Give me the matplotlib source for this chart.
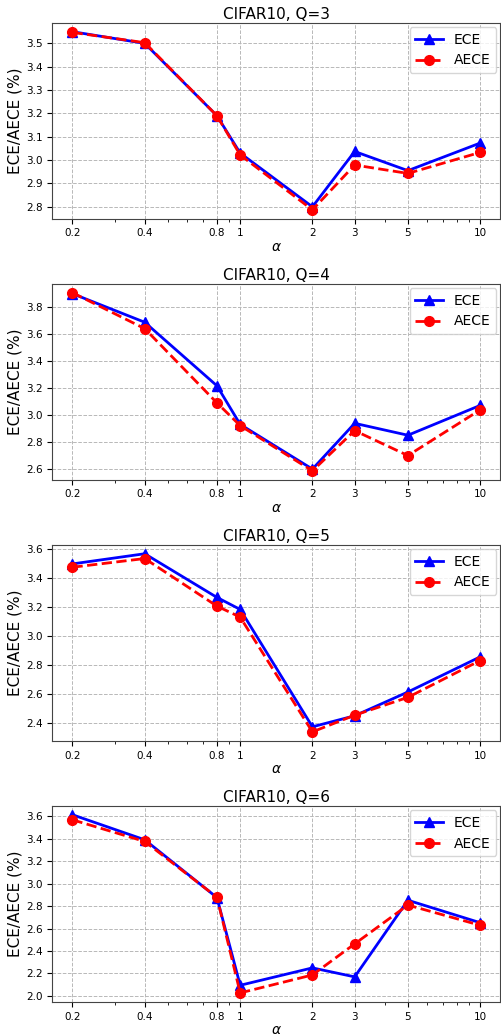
import numpy as np
import matplotlib
matplotlib.use('Agg')
import matplotlib.pyplot as plt
from matplotlib.ticker import NullFormatter

### data

alphas = [0.2, 0.4, 0.8, 1, 2, 3, 5, 10]
alpha_labels = ['0.2', '0.4', '0.8', '1', '2', '3', '5', '10']
q_values = [3, 4, 5, 6]

ece_q3 = [3.550, 3.500, 3.190, 3.030, 2.800, 3.037, 2.955, 3.073]
aece_q3 = [3.547, 3.503, 3.190, 3.022, 2.787, 2.979, 2.943, 3.033]

ece_q4 = [3.895, 3.684, 3.215, 2.930, 2.600, 2.938, 2.850, 3.070]
aece_q4 = [3.902, 3.637, 3.089, 2.921, 2.587, 2.884, 2.700, 3.037]

ece_q5 = [3.498, 3.568, 3.267, 3.184, 2.375, 2.451, 2.615, 2.857]
aece_q5 = [3.475, 3.535, 3.207, 3.131, 2.340, 2.455, 2.578, 2.832]

ece_q6 = [3.615, 3.392, 2.877, 2.095, 2.250, 2.170, 2.853, 2.653]
aece_q6 = [3.570, 3.377, 2.880, 2.027, 2.187, 2.464, 2.810, 2.630]

ece_all = [ece_q3, ece_q4, ece_q5, ece_q6]
aece_all = [aece_q3, aece_q4, aece_q5, aece_q6]


fig, axes = plt.subplots(4, 1, figsize=(5.01, 10.36), dpi=100)
fig.subplots_adjust(left=0.104, right=0.999, top=0.978, bottom=0.033, hspace=0.332)

for ax, q, ece, aece in zip(axes, q_values, ece_all, aece_all):
    ax.plot(alphas, ece, color='blue', linestyle='-', marker='^',
            linewidth=2.0, markersize=7, label='ECE')
    ax.plot(alphas, aece, color='red', linestyle='--', marker='o',
            linewidth=2.0, markersize=7, label='AECE')
    ax.set_xscale('log')
    ax.set_xticks(alphas)
    ax.set_xticklabels(alpha_labels)
    ax.xaxis.set_minor_formatter(NullFormatter())
    ax.tick_params(axis='both', which='major', labelsize=7.5)
    ax.grid(True, which='major', linestyle='--', color='#b8b8b8', linewidth=0.7)
    ax.set_title('CIFAR10, Q=%d' % q, fontsize=11, pad=3)
    ax.set_xlabel(r'$\alpha$', fontsize=10, labelpad=1)
    ax.set_ylabel('ECE/AECE (%)', fontsize=11, labelpad=2)
    ax.legend(loc='upper right', fontsize=10, borderaxespad=0.3)
    for sp in ax.spines.values():
        sp.set_color('#444444')

fig.savefig('out.png', dpi=100)
